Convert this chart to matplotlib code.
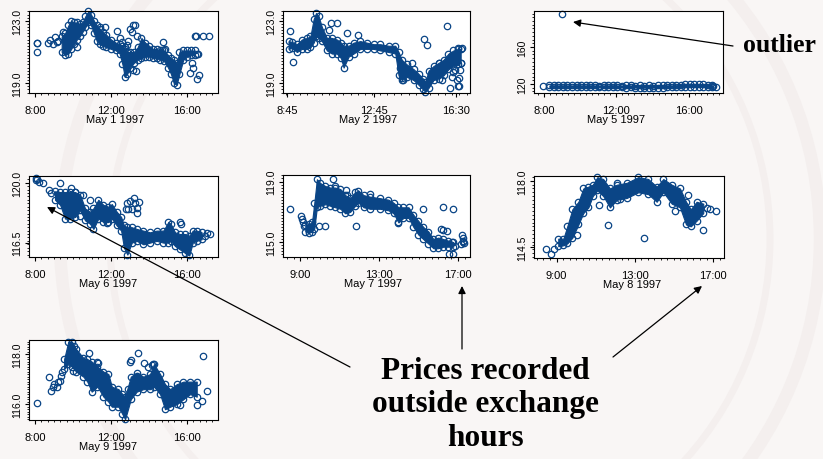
import matplotlib
matplotlib.use("Agg")
import matplotlib.pyplot as plt
from matplotlib.ticker import FixedLocator, MultipleLocator
from matplotlib.patches import Circle

W, H = 823, 460
BLUE = "#0a4586"

# ---- intraday prices, hours since midnight ----
# dense trading band: upper / lower envelope, plus isolated ticks
may1_t = [9.40, 9.58, 9.75, 9.90, 10.05, 10.20, 10.35, 10.50, 10.65, 10.80, 10.95, 11.10, 11.25, 11.40,
          11.55, 11.75, 12.00, 12.25, 12.45, 12.60, 12.72, 12.85, 13.00, 13.20, 13.40, 13.60, 13.80, 14.00,
          14.20, 14.40, 14.60, 14.80, 15.00, 15.15, 15.30, 15.45, 15.60, 15.80, 16.00, 16.20, 16.40]
may1_hi = [122.0, 122.2, 122.7, 123.0, 122.9, 122.9, 122.8, 122.9, 123.3, 123.6, 123.4, 123.0, 122.7, 122.5,
           122.3, 122.1, 121.8, 121.6, 121.5, 121.4, 121.2, 121.0, 121.0, 121.0, 121.3, 121.9, 121.6, 121.4,
           121.2, 121.2, 121.1, 121.1, 120.8, 120.6, 120.5, 120.3, 121.0, 121.1, 121.1, 121.1, 121.1]
may1_lo = [121.0, 120.8, 120.9, 121.2, 121.5, 121.8, 122.0, 122.3, 122.6, 122.9, 122.7, 122.2, 121.7, 121.5,
           121.4, 121.3, 121.2, 121.1, 120.9, 120.2, 119.4, 119.6, 120.0, 120.3, 120.5, 120.6, 120.7, 120.7,
           120.6, 120.6, 120.5, 120.4, 120.0, 119.6, 119.0, 118.9, 119.6, 120.5, 120.7, 120.8, 120.8]
may1_xt = [8.09, 8.09, 8.12, 8.70, 8.79, 8.96, 9.05, 9.14, 9.23, 9.49, 9.58, 10.19, 11.42, 11.68, 12.30,
           12.47, 12.56, 12.74, 12.91, 13.00, 13.09, 13.18, 13.26, 13.35, 12.82, 14.75, 14.84, 14.67, 16.25,
           16.16, 16.33, 16.51, 16.65, 16.42, 16.47, 16.51, 16.60, 16.86, 17.18, 13.18, 13.32]
may1_xp = [121.55, 121.0, 121.6, 121.6, 121.8, 121.5, 121.95, 121.65, 121.7, 122.3, 121.75, 121.3, 122.6,
           122.6, 122.35, 121.9, 121.65, 121.3, 121.7, 122.5, 122.3, 122.7, 122.75, 122.0, 121.45, 121.65,
           121.2, 121.1, 120.3, 119.65, 119.95, 119.3, 119.55, 122.0, 122.0, 120.9, 120.85, 122.0, 122.0,
           119.85, 119.75]

may2_t = [8.81, 8.96, 9.19, 9.42, 9.65, 9.81, 9.96, 10.07, 10.19, 10.34, 10.57, 10.80, 11.03, 11.22, 11.34,
          11.57, 11.80, 12.11, 12.41, 12.72, 13.03, 13.41, 13.72, 13.87, 14.02, 14.25, 14.56, 14.79, 14.99,
          15.11, 15.25, 15.48, 15.71, 15.94, 16.17, 16.40, 16.63, 16.73]
may2_hi = [121.7, 121.65, 121.5, 121.8, 121.9, 122.0, 123.1, 123.5, 123.3, 122.6, 121.9, 121.9, 121.8, 121.6,
           121.4, 121.4, 121.6, 121.7, 121.6, 121.5, 121.5, 121.4, 121.4, 121.0, 120.5, 120.2, 119.9, 119.6,
           119.3, 119.1, 119.8, 120.1, 120.3, 120.5, 120.9, 121.1, 121.2, 121.2]
may2_lo = [121.2, 121.25, 121.0, 121.2, 121.2, 121.3, 121.6, 122.0, 121.9, 121.7, 121.1, 120.9, 120.9, 120.6,
           120.0, 120.7, 120.9, 121.2, 121.2, 121.2, 121.1, 121.0, 120.9, 119.5, 119.2, 119.4, 119.2, 118.9,
           118.6, 118.45, 118.7, 119.2, 119.3, 119.5, 119.9, 120.1, 120.2, 120.3]
may2_xt = [8.89, 9.01, 10.65, 10.77, 11.03, 11.49, 11.99, 13.95, 14.02, 14.07, 14.48, 15.02, 15.20, 16.09,
           16.24, 16.32, 16.47, 16.55, 16.63, 16.67, 16.70, 16.73, 16.78, 16.63, 16.67, 16.37, 15.86, 15.71]
may2_xp = [122.34, 120.38, 122.39, 122.87, 122.87, 122.22, 122.11, 119.95, 119.32, 119.21, 120.27, 121.81,
           121.43, 122.64, 118.68, 119.42, 119.85, 119.21, 118.79, 119.32, 119.85, 120.27, 121.26, 121.26,
           118.85, 119.7, 119.21, 120.27]

may5_t = [8.30, 8.55, 8.80, 9.05, 9.30, 9.55, 9.80, 10.05, 10.30, 10.55, 10.80, 11.05, 11.30, 11.55, 11.80,
          12.05, 12.30, 12.55, 12.80, 13.05, 13.30, 13.55, 13.80, 14.05, 14.30, 14.55, 14.80, 15.05, 15.30,
          15.55, 15.80, 16.05, 16.30, 16.55, 16.80, 17.05, 17.30]
may5_hi = [118.5, 118.6, 118.5, 118.6, 118.5, 118.5, 118.7, 118.5, 118.5, 118.6, 118.5, 118.4, 118.5, 118.5,
           118.7, 118.5, 118.4, 118.5, 118.5, 118.4, 118.5, 118.4, 118.5, 118.4, 118.5, 118.5, 118.6, 118.5,
           118.7, 119.0, 119.6, 120.2, 120.0, 119.8, 119.6, 119.0, 118.6]
may5_lo = [116.6, 116.5, 116.6, 116.5, 116.4, 116.5, 116.5, 116.4, 116.5, 116.4, 116.3, 116.4, 116.3, 116.4,
           116.4, 116.3, 116.3, 116.2, 116.3, 116.2, 116.2, 116.1, 116.2, 116.2, 116.1, 116.2, 116.3, 116.4,
           116.5, 116.6, 116.8, 117.0, 117.0, 116.9, 116.8, 116.6, 116.5]
may5_xt = [7.96, 17.34, 17.49, 8.97]
may5_xp = [117.5, 117.5, 117.2, 195.5]

may6_t = [9.05, 9.32, 9.58, 9.84, 10.11, 10.37, 10.63, 10.89, 11.07, 11.33, 11.60, 11.86, 12.04, 12.30, 12.53,
          12.68, 12.86, 13.09, 13.35, 13.70, 14.05, 14.40, 14.75, 15.02, 15.14, 15.37, 15.63, 15.89, 16.12,
          16.30, 16.51, 16.77]
may6_hi = [119.5, 119.45, 119.45, 119.45, 119.45, 119.3, 118.5, 118.3, 118.5, 119.0, 118.7, 118.6, 118.75,
           118.3, 118.0, 117.5, 117.4, 117.4, 117.3, 117.2, 117.1, 117.2, 117.2, 117.7, 117.6, 117.1, 117.0,
           117.0, 116.9, 117.2, 117.2, 117.1]
may6_lo = [119.0, 118.7, 117.9, 117.9, 118.0, 118.4, 117.8, 117.6, 117.3, 117.9, 117.7, 117.7, 117.9, 117.5,
           117.2, 116.2, 115.8, 116.5, 116.6, 116.4, 116.5, 116.6, 116.5, 116.5, 116.6, 116.3, 116.1, 115.9,
           115.75, 116.5, 116.6, 116.7]
may6_xt = [8.05, 8.12, 8.23, 8.44, 8.05, 8.75, 8.84, 9.32, 9.88, 10.11, 10.54, 10.89, 11.81, 12.79, 12.86,
           12.91, 13.00, 13.12, 13.21, 13.26, 13.35, 13.35, 13.49, 15.63, 15.67, 17.04, 17.21, 16.95, 10.37]
may6_xp = [120.25, 120.19, 120.04, 120.0, 120.14, 119.57, 119.42, 120.0, 119.71, 119.46, 119.26, 118.99,
           117.67, 118.44, 118.83, 118.48, 118.93, 118.44, 119.13, 118.83, 118.54, 118.21, 118.87, 117.7,
           117.57, 117.08, 116.99, 116.89, 118.06]

may7_t = [9.25, 9.42, 9.59, 9.71, 9.84, 10.01, 10.27, 10.52, 10.77, 11.03, 11.28, 11.53, 11.78, 11.95, 12.21,
          12.54, 13.05, 13.47, 13.73, 13.98, 14.23, 14.49, 14.74, 14.99, 15.24, 15.50, 15.75, 16.00, 16.26,
          16.51, 16.76]
may7_hi = [116.1, 116.2, 116.3, 117.6, 119.15, 118.9, 118.7, 118.6, 118.6, 118.5, 118.1, 117.9, 118.3, 118.4,
           118.1, 118.0, 117.9, 117.8, 117.6, 117.3, 117.3, 117.3, 116.8, 116.4, 116.0, 115.7, 115.2, 115.3,
           115.2, 115.1, 115.0]
may7_lo = [115.7, 115.6, 115.7, 115.9, 117.3, 117.4, 117.5, 117.4, 117.3, 117.2, 116.9, 117.0, 117.4, 117.6,
           117.3, 117.2, 117.2, 117.1, 116.9, 116.3, 116.6, 116.6, 116.0, 115.5, 115.2, 114.9, 114.6, 114.6,
           114.7, 114.7, 114.7]
may7_xt = [8.49, 9.03, 9.08, 9.14, 9.20, 9.93, 10.27, 10.65, 10.77, 11.33, 11.36, 11.90, 11.84, 12.54, 13.98,
           15.21, 16.22, 16.73, 16.12, 16.26, 16.42, 16.56, 16.73, 17.19, 17.24, 17.24, 17.27, 17.30, 17.14,
           16.85, 16.68]
may7_xp = [117.16, 116.73, 116.55, 116.34, 116.08, 116.08, 116.08, 119.15, 118.72, 118.42, 118.13, 118.07,
           116.08, 118.18, 116.29, 117.16, 117.31, 117.16, 115.9, 115.8, 115.75, 114.24, 114.24, 115.47,
           115.26, 115.1, 115.0, 114.95, 114.89, 114.74, 115.04]

may8_t = [9.09, 9.35, 9.55, 9.81, 10.12, 10.37, 10.63, 10.85, 11.09, 11.39, 11.73, 12.08, 12.59, 13.18, 13.69,
          14.12, 14.46, 14.89, 15.31, 15.62, 15.86, 16.16, 16.50]
may8_hi = [114.95, 114.95, 115.6, 116.5, 116.9, 117.6, 117.7, 117.8, 118.2, 118.1, 117.6, 117.8, 117.9, 118.2,
           118.1, 117.7, 118.1, 117.8, 117.6, 116.9, 116.5, 116.9, 116.8]
may8_lo = [114.55, 114.6, 114.7, 115.0, 115.7, 116.3, 116.6, 117.2, 117.5, 117.2, 116.6, 117.0, 117.1, 117.4,
           117.3, 116.9, 117.4, 116.8, 116.6, 115.7, 115.6, 115.9, 116.3]
may8_xt = [8.46, 8.70, 8.87, 10.03, 11.17, 11.65, 12.11, 12.25, 13.47, 15.05, 15.74, 16.47, 16.84, 17.15, 16.67]
may8_xp = [114.39, 114.13, 114.39, 115.13, 116.71, 115.66, 117.88, 117.07, 115.01, 116.42, 117.24, 115.39,
           116.5, 116.42, 116.59]

may9_t = [9.53, 9.75, 9.93, 10.16, 10.54, 10.75, 10.98, 11.28, 11.60, 11.86, 12.04, 12.39, 12.60, 12.74, 13.04,
          13.35, 13.70, 14.05, 14.26, 14.58, 14.84, 15.11, 15.46, 15.81, 16.16, 16.51]
may9_hi = [117.8, 118.5, 118.5, 118.2, 117.85, 117.8, 117.7, 117.5, 117.3, 117.2, 116.7, 116.6, 116.4, 116.3,
           117.1, 117.25, 117.1, 117.2, 117.6, 117.2, 116.8, 116.6, 116.8, 116.9, 116.9, 116.9]
may9_lo = [117.4, 117.6, 117.5, 117.3, 117.1, 116.9, 116.5, 116.7, 116.3, 116.1, 115.9, 115.9, 115.6, 115.4,
           116.2, 116.5, 116.6, 116.6, 116.7, 116.4, 115.8, 115.9, 116.0, 116.2, 116.4, 116.3]
may9_xt = [8.09, 8.75, 8.82, 8.93, 9.00, 9.14, 9.23, 9.32, 9.37, 9.40, 10.05, 9.98, 10.86, 11.25, 11.33, 12.91,
           13.00, 13.04, 13.44, 13.74, 13.96, 14.14, 14.23, 13.35, 15.63, 16.51, 16.77, 17.04, 16.82]
may9_xp = [116.04, 117.07, 116.53, 116.67, 116.8, 116.67, 116.87, 116.93, 117.13, 117.29, 118.33, 117.33,
           118.03, 117.67, 117.63, 116.6, 117.67, 117.77, 118.04, 117.63, 117.47, 117.56, 117.6, 117.13,
           115.96, 115.96, 116.13, 116.53, 117.91]

DATES = ["May 1 1997", "May 2 1997", "May 5 1997", "May 6 1997", "May 7 1997", "May 8 1997", "May 9 1997"]
XTICKS = [[8, 12, 16], [8.75, 12.75, 16.5], [8, 12, 16], [8, 12, 16], [9, 13, 17], [9, 13, 17], [8, 12, 16]]
XLABELS = [["8:00", "12:00", "16:00"], ["8:45", "12:45", "16:30"], ["8:00", "12:00", "16:00"],
           ["8:00", "12:00", "16:00"], ["9:00", "13:00", "17:00"], ["9:00", "13:00", "17:00"],
           ["8:00", "12:00", "16:00"]]
YTICKS = [[119.0, 123.0], [119.0, 123.0], [120, 160], [116.5, 120.0], [115.0, 119.0], [114.5, 118.0],
          [116.0, 118.0]]
YLABELS = [["119.0", "123.0"], ["119.0", "123.0"], ["120", "160"], ["116.5", "120.0"], ["115.0", "119.0"],
           ["114.5", "118.0"], ["116.0", "118.0"]]

# layout: box in pixels (left, top, right, bottom), limits, minor step, date-label x
boxes = [(29, 12, 218, 94), (283, 12, 470, 94), (534, 12, 723, 94), (29, 177, 218, 258),
         (283, 176, 470, 258), (534, 177, 724, 259), (29, 341, 218, 421)]
xlims = [(7.68, 17.63), (8.55, 17.16), (7.45, 17.89), (7.68, 17.63), (8.12, 17.61), (7.85, 17.56),
         (7.68, 17.63)]
ylims = [(118.37, 123.63), (118.37, 123.63), (110.3, 198.9), (115.66, 120.39), (114.02, 119.43),
         (113.93, 118.26), (115.37, 118.56)]
yminor = [0.2, 0.2, 4, 0.2, 0.2, 0.2, 0.1]
date_x = [12.2, 12.47, 12.0, 11.84, 12.7, 12.86, 11.84]

series = [(may1_t, may1_hi, may1_lo, may1_xt, may1_xp), (may2_t, may2_hi, may2_lo, may2_xt, may2_xp),
          (may5_t, may5_hi, may5_lo, may5_xt, may5_xp), (may6_t, may6_hi, may6_lo, may6_xt, may6_xp),
          (may7_t, may7_hi, may7_lo, may7_xt, may7_xp), (may8_t, may8_hi, may8_lo, may8_xt, may8_xp),
          (may9_t, may9_hi, may9_lo, may9_xt, may9_xp)]

plt.rcParams["font.family"] = ["Liberation Sans", "DejaVu Sans"]
fig = plt.figure(figsize=(W / 100, H / 100), dpi=100, facecolor="#f9f6f5")

# faint seal in the slide background
bg = fig.add_axes([0, 0, 1, 1], zorder=-5)
bg.set_xlim(0, W); bg.set_ylim(0, H); bg.axis("off")
for r, lw in [(380, 9), (330, 5)]:
    bg.add_patch(Circle((440, 220), r, fill=False, ec="#f4efee", lw=lw))

circ = dict(ls="none", marker="o", mfc="none", mec=BLUE, ms=4.6, mew=0.9, clip_on=False)

for i, (t, hi, lo, xt, xp) in enumerate(series):
    l, tp, r, b = boxes[i]
    ax = fig.add_axes([l / W, 1 - b / H, (r - l) / W, (b - tp) / H])
    ax.set_facecolor("white")
    ax.fill_between(t, lo, hi, color=BLUE, lw=0.8, ec=BLUE)
    ax.plot(t, hi, **circ)
    ax.plot(t, lo, **circ)
    ax.plot(xt, xp, **circ)
    ax.set_xlim(*xlims[i]); ax.set_ylim(*ylims[i])
    ax.xaxis.set_major_locator(FixedLocator(XTICKS[i]))
    ax.set_xticklabels(XLABELS[i], fontsize=8)
    ax.xaxis.set_minor_locator(MultipleLocator(1 / 3))
    ax.yaxis.set_major_locator(FixedLocator(YTICKS[i]))
    ax.set_yticklabels(YLABELS[i], fontsize=7.5, rotation=90, va="center")
    ax.yaxis.set_minor_locator(MultipleLocator(yminor[i]))
    ax.tick_params(which="major", direction="out", length=3, width=0.8, color="k", pad=2)
    ax.tick_params(which="minor", direction="out", length=1.6, width=0.6, color="k")
    ax.tick_params(axis="x", which="major", pad=5.5)
    for s in ax.spines.values():
        s.set_linewidth(0.8)
    ax.annotate(DATES[i], xy=(date_x[i], 0), xycoords=("data", "axes fraction"),
                xytext=(0, -19), textcoords="offset points", ha="center", va="center",
                fontsize=8, annotation_clip=False)

serif = dict(family=["Liberation Serif", "DejaVu Serif"], weight="bold", color="black")
fig.text(779 / W, 1 - 45 / H, "outlier", fontsize=18.5, ha="center", va="center", **serif)
fig.text(485 / W, 1 - 405 / H, "Prices recorded\noutside exchange\nhours", fontsize=22.5,
         ha="center", va="center", linespacing=1.2, **serif)

arrow = dict(arrowstyle="-|>", color="black", lw=0.9, mutation_scale=11, shrinkA=0, shrinkB=0)
for head, tail in [((573, 437), (733, 413)), ((47, 252), (350, 92)),
                   ((462, 173), (462, 110)), ((702, 173), (613, 102))]:
    fig.add_artist(plt.Annotation("", xy=head, xycoords="figure pixels", xytext=tail,
                                  textcoords="figure pixels", arrowprops=arrow))

fig.savefig("out.png", dpi=100, facecolor=fig.get_facecolor())
